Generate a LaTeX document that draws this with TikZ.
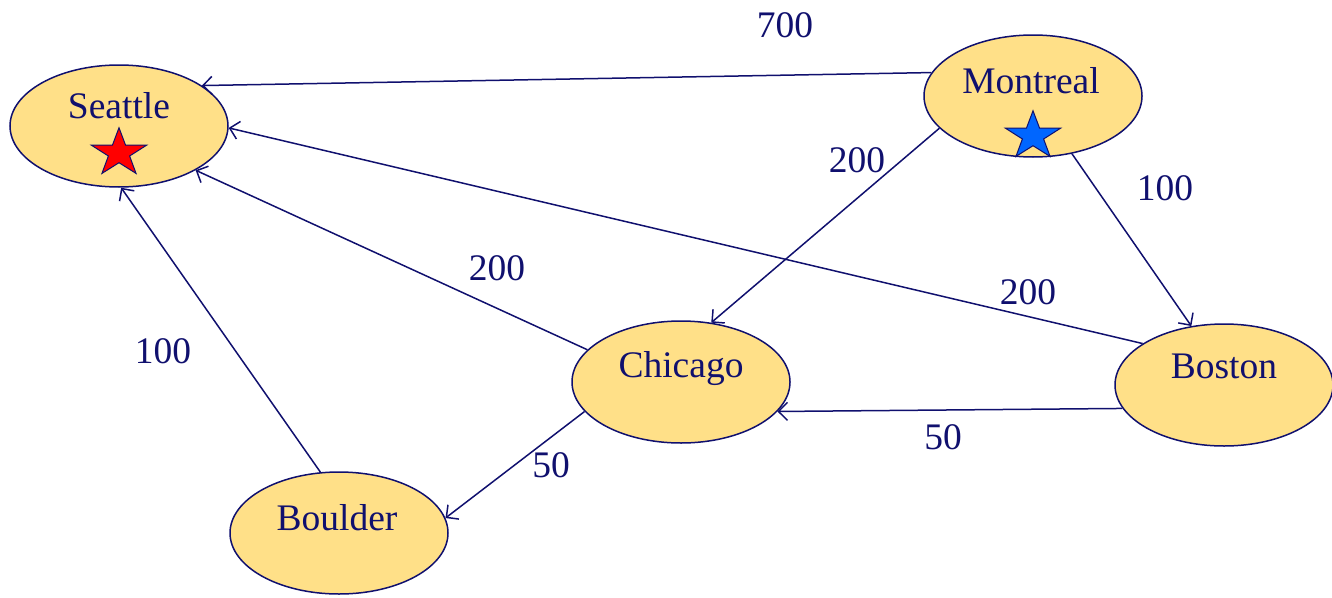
\documentclass[tikz,border=0pt]{standalone}
\usepackage{fontspec}
\setmainfont{Liberation Serif}
\usetikzlibrary{shapes.geometric,arrows.meta}
\definecolor{navy}{RGB}{16,16,110}
\definecolor{cityfill}{RGB}{255,224,136}
\definecolor{starred}{RGB}{255,0,0}
\definecolor{starblue}{RGB}{0,102,255}
\tikzset{
  city/.style={ellipse, draw=navy, fill=cityfill, line width=1.5pt, minimum width=218pt, minimum height=122pt, inner sep=0pt},
  cityname/.style={anchor=base, text=navy, inner sep=0pt, font=\fontsize{37.5}{40}\selectfont},
  weight/.style={text=navy, inner sep=0pt, font=\fontsize{37.5}{40}\selectfont},
  flight/.style={draw=navy, line width=1.5pt, -{Straight Barb[length=9pt,width=18pt,line width=1.5pt]}},
  mark star/.style={star, star points=5, star point ratio=2.6, minimum size=58pt, inner sep=0pt, draw=navy, line width=1pt, transform shape, yscale=0.87}
}
\begin{document}
\begin{tikzpicture}[x=1pt,y=-1pt]
\useasboundingbox (0,0) rectangle (1332,597);
% cities
\node[city] (seattle) at (119,126) {};
\node[city] (montreal) at (1033,96) {};
\node[city] (chicago) at (681,382) {};
\node[city] (boston) at (1224,385) {};
\node[city] (boulder) at (339,533) {};
% names
\node[cityname] (tseattle) at (119,118) {Seattle};
\node[cityname] (tmontreal) at (1031,93) {Montreal};
\node[cityname] (tchicago) at (681,377) {Chicago};
\node[cityname] (tboston) at (1224,378) {Boston};
\node[cityname] (tboulder) at (337,530) {Boulder};
% stars
\node[mark star, fill=starred] (sseattle) at (119,153) {};
\node[mark star, fill=starblue] (smontreal) at (1033,136) {};
% flights
\draw[flight] (montreal.167) -- (seattle.26.6);
\draw[flight] (montreal.199) -- (chicago.63.8);
\draw[flight] (montreal.-56) -- (boston.119);
\draw[flight] (boston.153.7) -- (seattle.-1);
\draw[flight] (chicago.161.7) -- (seattle.-30);
\draw[flight] (boston.193.7) -- (chicago.-17.1);
\draw[flight] (chicago.197.4) -- (boulder.8.9);
\draw[flight] (boulder.107.8) -- (seattle.-88.2);
% weights
\node[weight] (w1) at (785,25) {700};
\node[weight] (w2) at (857,160) {200};
\node[weight] (w3) at (1165,188) {100};
\node[weight] (w4) at (1028,292) {200};
\node[weight] (w5) at (497,268) {200};
\node[weight] (w6) at (943,437) {50};
\node[weight] (w7) at (551,465) {50};
\node[weight] (w8) at (163,351) {100};
\end{tikzpicture}
\end{document}
